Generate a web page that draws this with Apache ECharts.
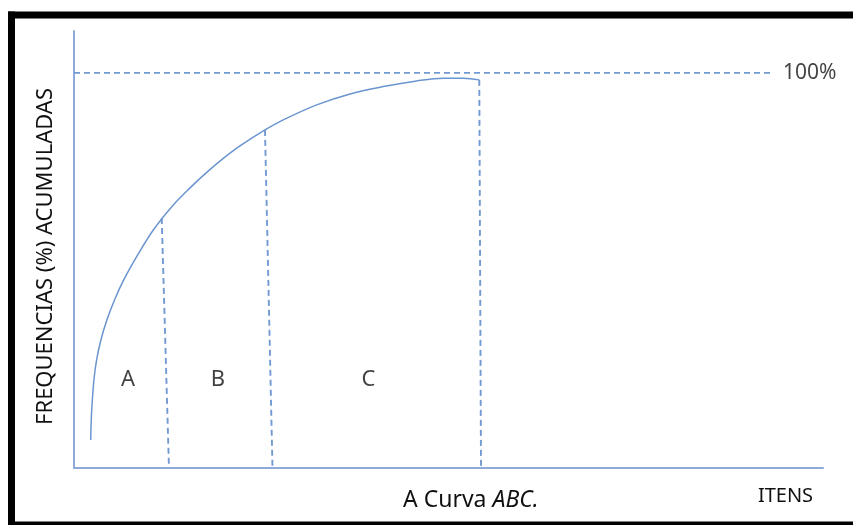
<!DOCTYPE html>
<html>
<head>
<meta charset="utf-8">
<script src="https://cdn.jsdelivr.net/npm/echarts@6/dist/echarts.min.js"></script>
<style>
html,body{margin:0;padding:0;background:#fff;}
#chart{width:853px;height:525px;}
</style>
</head>
<body>
<div id="chart"></div>
<script>
// ---- data (x: % of items, y: cumulative %) ----
const curveX = [2.23, 2.29, 2.39, 2.66, 3.02, 3.59, 4.39, 5.41, 6.64, 8.54, 10.59, 13.26, 15.49, 17.72, 19.93, 22.16, 25.50, 27.94, 32.40, 36.85, 41.29, 45.75, 49.31, 51.98, 54.11];
const curveY = [7.09, 11.39, 15.52, 22.28, 27.34, 32.41, 37.47, 42.53, 47.59, 54.05, 60.25, 66.58, 70.89, 74.81, 78.35, 81.52, 85.57, 88.10, 91.90, 94.68, 96.53, 97.97, 98.66, 98.66, 98.23];
const sepTopX = [11.71, 25.50, 54.11];
const sepTopY = [63.29, 85.57, 98.23];
const sepBottomX = [12.68, 26.5, 54.34];
const refValue = 100;
const refEndX = 93.2;
const refLabel = '100%';
const regions = ['A', 'B', 'C'];
const regionX = [7.2, 19.2, 39.3];
const regionY = 22.3;
const yMax = 110.6;
const xMax = 100;
const yTitle = 'FREQUENCIAS (%) ACUMULADAS';
const xTitleNormal = 'A Curva ';
const xTitleItalic = 'ABC.';
const xEndLabel = 'ITENS';

const axisColor = '#8eaadb';
const lineColor = '#6b95d0';
const dashColor = '#7399d2';
const textColor = '#111';
const font = '"Noto Sans", "Open Sans", sans-serif';

const chart = echarts.init(document.getElementById('chart'), null, {renderer: 'canvas'});

const series = [];
series.push({
  type: 'line',
  data: curveX.map((x, i) => [x, curveY[i]]),
  smooth: 0.35,
  showSymbol: false,
  lineStyle: {color: lineColor, width: 1.5},
  silent: true,
  z: 3
});
sepTopX.forEach((x, i) => {
  series.push({
    type: 'line',
    data: [[x, sepTopY[i]], [sepBottomX[i], 0]],
    showSymbol: false,
    lineStyle: {color: dashColor, width: 1.9, type: [6, 4]},
    silent: true,
    z: 2
  });
});
series.push({
  type: 'line',
  data: [[0, refValue], [refEndX, refValue]],
  showSymbol: false,
  lineStyle: {color: dashColor, width: 1.7, type: [6, 4]},
  silent: true,
  z: 2
});
series.push({
  type: 'scatter',
  data: [[refEndX, refValue, refLabel]],
  symbolSize: 0,
  silent: true,
  label: {
    show: true, position: 'right', distance: 11,
    formatter: p => p.data[2],
    color: textColor, fontSize: 21, fontFamily: font
  }
});
series.push({
  type: 'scatter',
  data: regions.map((r, i) => [regionX[i], regionY, r]),
  symbolSize: 0,
  silent: true,
  label: {
    show: true, position: 'inside',
    formatter: p => p.data[2],
    color: textColor, fontSize: 22, fontFamily: font
  }
});

chart.setOption({
  animation: false,
  backgroundColor: '#fff',
  grid: {left: 74, right: 30, top: 31, bottom: 57, containLabel: false},
  xAxis: {
    type: 'value', min: 0, max: xMax,
    axisLine: {show: true, lineStyle: {color: axisColor, width: 2}},
    axisTick: {show: false}, axisLabel: {show: false}, splitLine: {show: false}
  },
  yAxis: {
    type: 'value', min: 0, max: yMax,
    axisLine: {show: true, lineStyle: {color: axisColor, width: 2}},
    axisTick: {show: false}, axisLabel: {show: false}, splitLine: {show: false}
  },
  series: series,
  graphic: [
    {type: 'rect', shape: {x: 8, y: 11.5, width: 845, height: 7}, style: {fill: '#000'}, silent: true},
    {type: 'rect', shape: {x: 8, y: 11.5, width: 7, height: 514}, style: {fill: '#000'}, silent: true},
    {type: 'rect', shape: {x: 8, y: 521.5, width: 845, height: 4}, style: {fill: '#000'}, silent: true},
    {
      type: 'text', x: 46, y: 256.5, rotation: Math.PI / 2,
      style: {text: yTitle, fill: textColor, font: '22px ' + font, textAlign: 'center', textVerticalAlign: 'middle'},
      silent: true
    },
    {
      type: 'text', x: 403, y: 500,
      style: {
        text: '{n|' + xTitleNormal + '}{i|' + xTitleItalic + '}',
        rich: {
          n: {fontSize: 23, fontFamily: font, fill: textColor, color: textColor},
          i: {fontSize: 23, fontFamily: font, fontStyle: 'italic', fill: textColor, color: textColor}
        },
        textAlign: 'left', textVerticalAlign: 'middle'
      },
      silent: true
    },
    {
      type: 'text', x: 785.5, y: 496,
      style: {text: xEndLabel, fill: textColor, font: '20px ' + font, textAlign: 'center', textVerticalAlign: 'middle'},
      silent: true
    }
  ]
});
</script>
</body>
</html>
